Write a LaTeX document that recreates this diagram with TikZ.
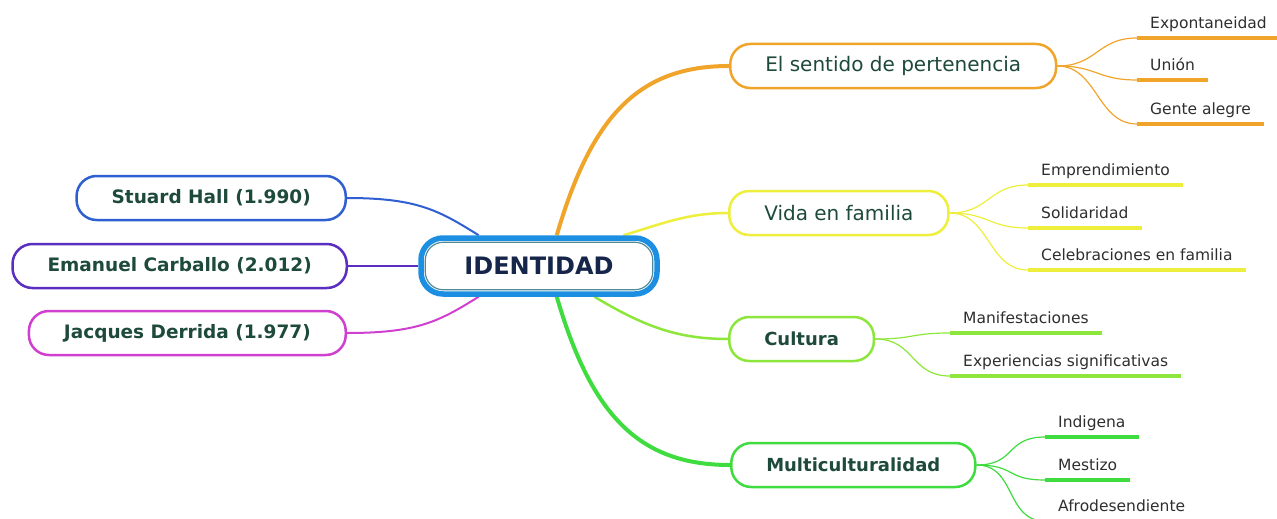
\documentclass[tikz,border=0pt]{standalone}
\usepackage{fontspec}
\setmainfont{DejaVu Sans}
\usepackage{xcolor}
\usepackage{tikz}
\usetikzlibrary{backgrounds}

\definecolor{identblue}{HTML}{1C8FE3}
\definecolor{identline}{HTML}{4F8A98}
\definecolor{identtext}{HTML}{16264A}
\definecolor{topictext}{HTML}{1E4A3C}
\definecolor{leaftext}{HTML}{2E2E2E}
\definecolor{hallblue}{HTML}{2F5FD0}
\definecolor{carbpurple}{HTML}{5B2EC2}
\definecolor{derrmagenta}{HTML}{D040D0}
\definecolor{pertorange}{HTML}{F0A52A}
\definecolor{famyellow}{HTML}{EEEE3C}
\definecolor{cultgreen}{HTML}{8DE63C}
\definecolor{multgreen}{HTML}{3EDC3E}

\begin{document}
\begin{tikzpicture}[x=1pt,y=-1pt,
  topic/.style={draw,fill=white,line width=2.5pt,rounded corners=20pt,inner xsep=35pt,
    minimum height=44pt,text=topictext,font=\fontsize{20}{22}\selectfont},
  bold topic/.style={topic,font=\fontsize{18}{20}\selectfont\bfseries},
  author/.style={topic,font=\fontsize{18.5}{20}\selectfont\bfseries},
  leaf/.style={anchor=south west,inner xsep=13pt,inner ysep=7pt,text height=0.75em,
    text depth=0.22em,text=leaftext,font=\fontsize{15.5}{17}\selectfont},
  leafline/.style={line width=3.5pt},
  twig/.style={line width=1.2pt}]
\useasboundingbox (0,0) rectangle (1277,519);

% centre
\node (ident) at (539,266) [draw=identblue,fill=white,line width=5.5pt,rounded corners=22pt,
  minimum width=236pt,minimum height=56pt,text=identtext,
  font=\fontsize{24}{26}\selectfont\bfseries] {IDENTIDAD};
\draw[identline,line width=1.2pt,rounded corners=18pt]
  ([xshift=7pt,yshift=-7pt]ident.north west) rectangle ([xshift=-7pt,yshift=7pt]ident.south east);

% authors
\node (hall) at (347,198) [author,anchor=east,draw=hallblue] {Stuard Hall (1.990)};
\node (carb) at (348,266) [author,anchor=east,draw=carbpurple] {Emanuel Carballo (2.012)};
\node (derr) at (347,333) [author,anchor=east,draw=derrmagenta] {Jacques Derrida (1.977)};

% topics
\node (pert) at (729,66) [topic,anchor=west,draw=pertorange] {El sentido de pertenencia};
\node (fam) at (728,213) [topic,anchor=west,draw=famyellow] {Vida en familia};
\node (cult) at (728,339) [bold topic,anchor=west,draw=cultgreen] {Cultura};
\node (mult) at (730,465) [bold topic,anchor=west,draw=multgreen] {Multiculturalidad};

% leaves
\node (exp) at (1137,38) [leaf] {Expontaneidad};
\node (union) at (1137,80) [leaf] {Unión};
\node (gente) at (1137,124) [leaf] {Gente alegre};
\node (empr) at (1028,185) [leaf] {Emprendimiento};
\node (solid) at (1028,228) [leaf] {Solidaridad};
\node (celeb) at (1028,270) [leaf] {Celebraciones en familia};
\node (manif) at (950,333) [leaf] {Manifestaciones};
\node (exper) at (950,376) [leaf] {Experiencias significativas};
\node (indig) at (1045,437) [leaf] {Indigena};
\node (mest) at (1045,480) [leaf] {Mestizo};
\node (afro) at (1045,521) [leaf] {Afrodesendiente};

\draw[leafline,pertorange] (exp.south west) -- (exp.south east);
\draw[leafline,pertorange] (union.south west) -- (union.south east);
\draw[leafline,pertorange] (gente.south west) -- (gente.south east);
\draw[leafline,famyellow] (empr.south west) -- (empr.south east);
\draw[leafline,famyellow] (solid.south west) -- (solid.south east);
\draw[leafline,famyellow] (celeb.south west) -- (celeb.south east);
\draw[leafline,cultgreen] (manif.south west) -- (manif.south east);
\draw[leafline,cultgreen] (exper.south west) -- (exper.south east);
\draw[leafline,multgreen] (indig.south west) -- (indig.south east);
\draw[leafline,multgreen] (mest.south west) -- (mest.south east);
\draw[leafline,multgreen] (afro.south west) -- (afro.south east);

\begin{scope}[on background layer]
% branches from the centre
\draw[pertorange,line width=4pt] (ident.60) .. controls +(35,-120) and +(-90,0) .. (pert.west);
\draw[famyellow,line width=2.5pt] (ident.20) .. controls +(40,-12) and +(-40,0) .. (fam.west);
\draw[cultgreen,line width=2.5pt] (ident.-29) .. controls +(50,30) and +(-50,0) .. (cult.west);
\draw[multgreen,line width=4pt] (ident.-60) .. controls +(35,120) and +(-90,0) .. (mult.west);
\draw[hallblue,line width=2pt] (hall.east) .. controls +(70,0) and +(-40,-25) .. (ident.153);
\draw[carbpurple,line width=2pt] (carb.east) -- (ident.west);
\draw[derrmagenta,line width=2pt] (derr.east) .. controls +(70,0) and +(-40,25) .. (ident.207);

% twigs to the leaves
\draw[twig,pertorange] (pert.east) .. controls +(40,0) and +(-40,0) .. (exp.south west);
\draw[twig,pertorange] (pert.east) .. controls +(40,0) and +(-40,0) .. (union.south west);
\draw[twig,pertorange] (pert.east) .. controls +(40,0) and +(-40,0) .. (gente.south west);
\draw[twig,famyellow] (fam.east) .. controls +(40,0) and +(-40,0) .. (empr.south west);
\draw[twig,famyellow] (fam.east) .. controls +(40,0) and +(-40,0) .. (solid.south west);
\draw[twig,famyellow] (fam.east) .. controls +(40,0) and +(-40,0) .. (celeb.south west);
\draw[twig,cultgreen] (cult.east) .. controls +(40,0) and +(-40,0) .. (manif.south west);
\draw[twig,cultgreen] (cult.east) .. controls +(40,0) and +(-40,0) .. (exper.south west);
\draw[twig,multgreen] (mult.east) .. controls +(40,0) and +(-40,0) .. (indig.south west);
\draw[twig,multgreen] (mult.east) .. controls +(40,0) and +(-40,0) .. (mest.south west);
\draw[twig,multgreen] (mult.east) .. controls +(40,0) and +(-40,0) .. (afro.south west);
\end{scope}
\end{tikzpicture}
\end{document}
